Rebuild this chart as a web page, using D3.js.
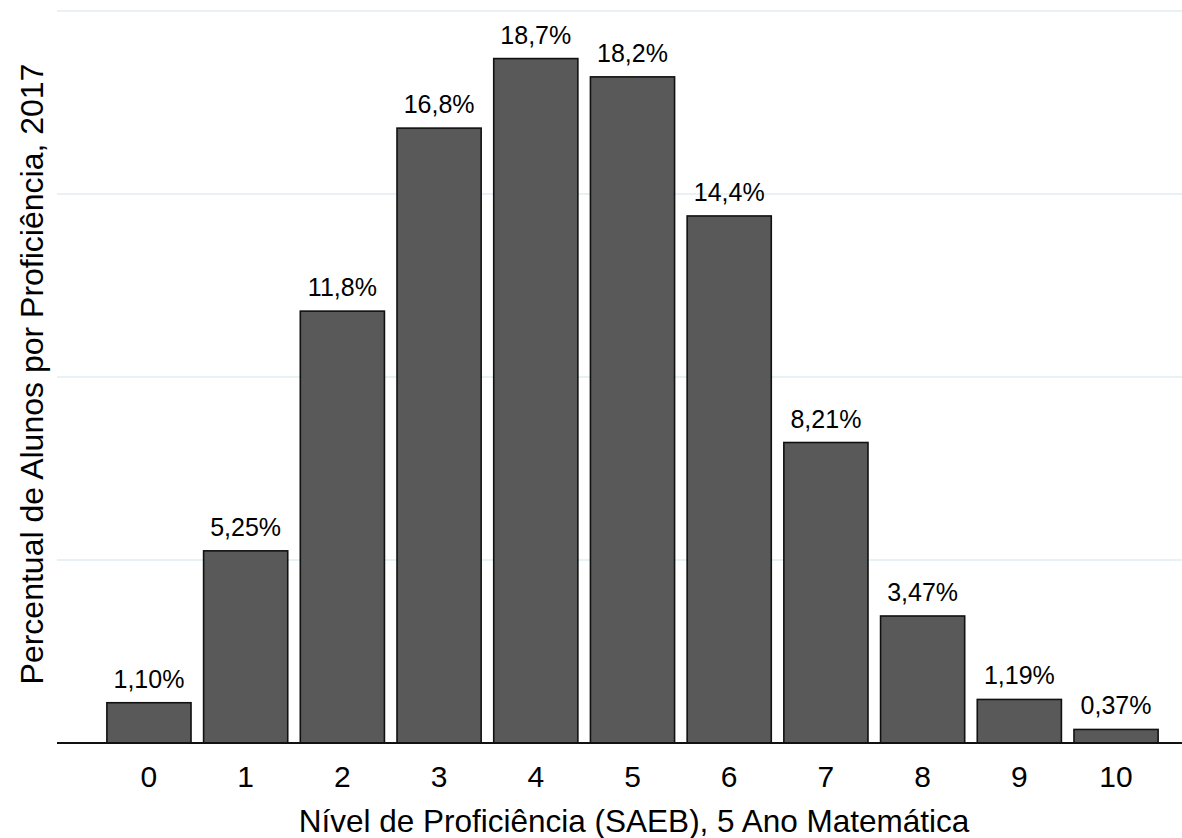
<!DOCTYPE html>
<html>
<head>
<meta charset="utf-8">
<script src="https://cdn.jsdelivr.net/npm/d3@7"></script>
<style>
  html, body { margin: 0; padding: 0; background: #fff; }
  text { font-family: "Liberation Sans", Arial, sans-serif; fill: #000; }
</style>
</head>
<body>
<div id="chart"></div>
<script>
const levels = ["0", "1", "2", "3", "4", "5", "6", "7", "8", "9", "10"];
const percents = [1.10, 5.25, 11.8, 16.8, 18.7, 18.2, 14.4, 8.21, 3.47, 1.19, 0.37];
const percentLabels = ["1,10%", "5,25%", "11,8%", "16,8%", "18,7%", "18,2%", "14,4%", "8,21%", "3,47%", "1,19%", "0,37%"];
const gridTicks = [5, 10, 15, 20];

const width = 1182;
const height = 838;
const panelLeft = 57;

const svg = d3.select("#chart")
  .append("svg")
  .attr("width", width)
  .attr("height", height);

const x = d3.scaleBand()
  .domain(levels)
  .range([100.6, 1164.4])
  .paddingInner(0.13)
  .paddingOuter(0.065);

const y = d3.scaleLinear()
  .domain([0, 20])
  .range([743, 11]);

// Gridlines
svg.append("g")
  .selectAll("line")
  .data(gridTicks)
  .enter()
  .append("line")
  .attr("x1", panelLeft)
  .attr("x2", width)
  .attr("y1", d => y(d))
  .attr("y2", d => y(d))
  .attr("stroke", "#e8f1f3")
  .attr("stroke-width", 2);

// Bars
const data = levels.map((l, i) => ({ level: l, value: percents[i], label: percentLabels[i] }));

svg.append("g")
  .selectAll("rect")
  .data(data)
  .enter()
  .append("rect")
  .attr("x", d => x(d.level))
  .attr("y", d => y(d.value))
  .attr("width", x.bandwidth())
  .attr("height", d => y(0) - y(d.value))
  .attr("fill", "#595959")
  .attr("stroke", "#111")
  .attr("stroke-width", 1.6);

// Baseline
svg.append("line")
  .attr("x1", panelLeft)
  .attr("x2", width)
  .attr("y1", y(0))
  .attr("y2", y(0))
  .attr("stroke", "#111")
  .attr("stroke-width", 2);

// Value labels
svg.append("g")
  .selectAll("text")
  .data(data)
  .enter()
  .append("text")
  .attr("x", d => x(d.level) + x.bandwidth() / 2)
  .attr("y", d => y(d.value) - 15)
  .attr("text-anchor", "middle")
  .attr("font-size", "25px")
  .attr("fill", "#111")
  .text(d => d.label);

// X axis ticks
const xAxis = svg.append("g")
  .attr("transform", `translate(0,${y(0)})`)
  .call(d3.axisBottom(x).tickSize(0).tickPadding(23));
xAxis.select(".domain").remove();
xAxis.selectAll("text")
  .attr("font-size", "30px")
  .attr("font-family", "Liberation Sans, Arial, sans-serif")
  .attr("fill", "#000");

// Axis titles
svg.append("text")
  .attr("x", 634)
  .attr("y", 832)
  .attr("text-anchor", "middle")
  .attr("font-size", "31.5px")
  .text("Nível de Proficiência (SAEB), 5 Ano Matemática");

svg.append("text")
  .attr("transform", "translate(43,374) rotate(-90)")
  .attr("text-anchor", "middle")
  .attr("font-size", "32px")
  .text("Percentual de Alunos por Proficiência, 2017");
</script>
</body>
</html>
